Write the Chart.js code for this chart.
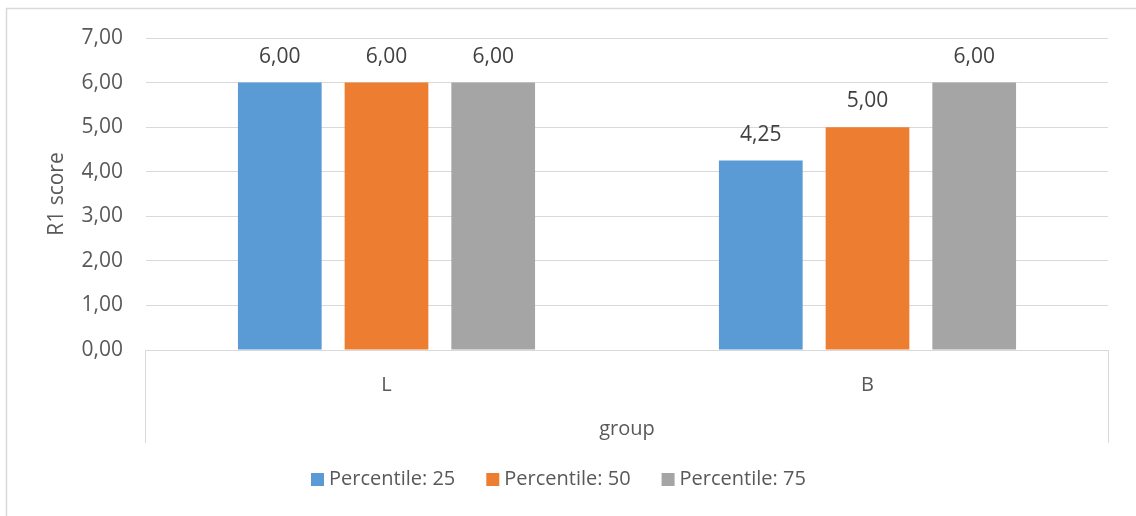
<!DOCTYPE html>
<html>
<head>
<meta charset="utf-8">
<script src="https://cdn.jsdelivr.net/npm/chart.js@4/dist/chart.umd.min.js"></script>
<style>
  html, body { margin: 0; padding: 0; background: #ffffff; }
  #wrap { width: 1136px; height: 516px; position: relative; }
</style>
</head>
<body>
<div id="wrap"><canvas id="chart" width="1136" height="516"></canvas></div>
<script>
// Groups on the category axis
const groups = ['L', 'B'];
// Series names and their values per group
const seriesNames = ['Percentile: 25', 'Percentile: 50', 'Percentile: 75'];
const p25 = [6.00, 4.25];
const p50 = [6.00, 5.00];
const p75 = [6.00, 6.00];
const seriesColors = ['#5B9BD5', '#ED7D31', '#A5A5A5'];
// Value axis range
const yMin = 0;
const yMax = 7;
const yStep = 1;

const textColor = '#595959';
const lineColor = '#D9D9D9';
const fontFamily = '"Open Sans", "Liberation Sans", sans-serif';

const fmt = v => Number(v).toFixed(2).replace('.', ',');

// Frame around the whole chart, and the box lines framing the category labels
const framePlugin = {
  id: 'frame',
  beforeDraw(chart) {
    const ctx = chart.ctx;
    ctx.save();
    ctx.strokeStyle = lineColor;
    ctx.lineWidth = 1.5;
    ctx.strokeRect(6.5, 8.5, chart.width + 20, chart.height + 20);
    ctx.restore();
  },
  afterDraw(chart) {
    const ctx = chart.ctx;
    const area = chart.chartArea;
    const x = chart.scales.x;
    ctx.save();
    ctx.strokeStyle = lineColor;
    ctx.lineWidth = 1;
    ctx.beginPath();
    ctx.moveTo(Math.round(area.left) - 0.5, area.bottom);
    ctx.lineTo(Math.round(area.left) - 0.5, x.bottom);
    ctx.moveTo(Math.round(area.right) + 0.5, area.bottom);
    ctx.lineTo(Math.round(area.right) + 0.5, x.bottom);
    ctx.stroke();
    ctx.restore();
  }
};

// Value labels above each bar
const valueLabelPlugin = {
  id: 'valueLabels',
  afterDatasetsDraw(chart) {
    const ctx = chart.ctx;
    ctx.save();
    ctx.font = '21px ' + fontFamily;
    ctx.fillStyle = '#404040';
    ctx.textAlign = 'center';
    ctx.textBaseline = 'middle';
    chart.data.datasets.forEach((ds, i) => {
      const meta = chart.getDatasetMeta(i);
      meta.data.forEach((bar, j) => {
        ctx.fillText(fmt(ds.data[j]), bar.x, bar.y - 26);
      });
    });
    ctx.restore();
  }
};

// Compact legend row under the category box: square swatch, then series name
const legendRowPlugin = {
  id: 'legendRow',
  afterDraw(chart) {
    const ctx = chart.ctx;
    const box = 13, gapText = 5, gapItem = 31;
    ctx.save();
    ctx.font = '20px ' + fontFamily;
    ctx.textBaseline = 'middle';
    ctx.textAlign = 'left';
    const sets = chart.data.datasets;
    const widths = sets.map(ds => ctx.measureText(ds.label).width);
    const total = widths.reduce((s, w) => s + box + gapText + w, 0) + gapItem * (sets.length - 1);
    let x = Math.round(chart.width / 2 - 10 - total / 2);
    const cy = chart.scales.x.bottom + 36;
    sets.forEach((ds, i) => {
      ctx.fillStyle = ds.backgroundColor;
      ctx.fillRect(x, Math.round(cy - box / 2), box, box);
      ctx.fillStyle = textColor;
      ctx.fillText(ds.label, x + box + gapText, cy);
      x += box + gapText + widths[i] + gapItem;
    });
    ctx.restore();
  }
};

const seriesData = [p25, p50, p75];

new Chart(document.getElementById('chart'), {
  type: 'bar',
  data: {
    labels: groups,
    datasets: seriesNames.map((name, i) => ({
      label: name,
      data: seriesData[i],
      backgroundColor: seriesColors[i],
      borderWidth: 0,
      categoryPercentage: 0.6655,
      barPercentage: 0.7845
    }))
  },
  options: {
    responsive: false,
    animation: false,
    layout: { padding: { top: 38, right: 28, bottom: 73, left: 0 } },
    plugins: {
      legend: { display: false },
      tooltip: { enabled: false }
    },
    scales: {
      x: {
        grid: { display: false, drawTicks: false },
        border: { display: false },
        ticks: {
          color: textColor,
          font: { family: fontFamily, size: 20 },
          padding: 23
        },
        title: {
          display: true,
          text: 'group',
          color: textColor,
          font: { family: fontFamily, size: 20 },
          padding: { top: 0, bottom: 2 }
        },
        afterFit(scale) { scale.height = 93; }
      },
      y: {
        min: yMin,
        max: yMax,
        grid: { color: lineColor, lineWidth: 1, drawTicks: false },
        border: { display: false },
        ticks: {
          stepSize: yStep,
          color: textColor,
          font: { family: fontFamily, size: 21 },
          padding: 23,
          callback: v => fmt(v)
        },
        title: {
          display: true,
          text: 'R1 score',
          color: textColor,
          font: { family: fontFamily, size: 21 },
          padding: { top: 44, bottom: 0 }
        },
        afterFit(scale) { scale.width = 146; }
      }
    }
  },
  plugins: [framePlugin, valueLabelPlugin, legendRowPlugin]
});
</script>
</body>
</html>
